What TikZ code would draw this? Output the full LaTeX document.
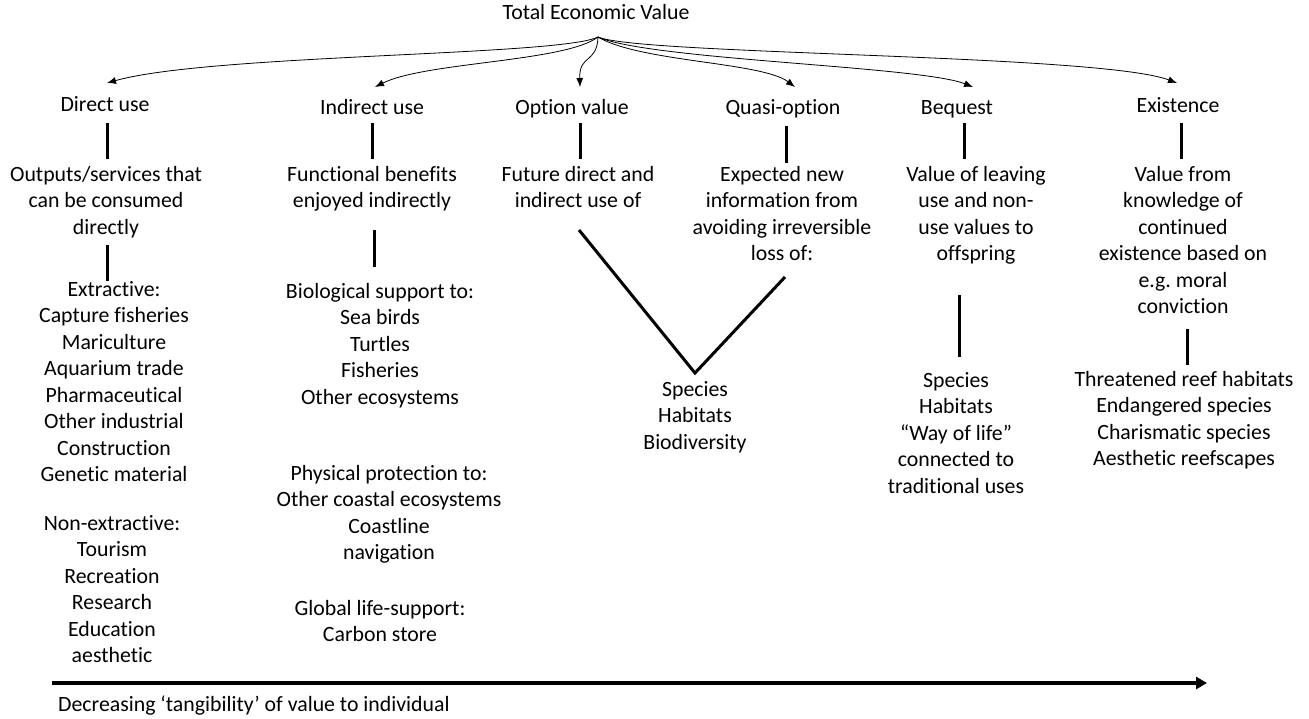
\documentclass[tikz,border=0pt]{standalone}
\usepackage{fontspec}
\setmainfont{Carlito}[Ligatures={NoCommon,NoRare,NoContextual}]
\usetikzlibrary{arrows.meta}
\begin{document}
\frenchspacing
\begin{tikzpicture}[x=1pt,y=-1pt,
  txt/.style={font=\fontsize{21.8}{26.5}\selectfont, align=center, inner sep=0pt, anchor=north, execute at begin node=\strut},
  bar/.style={line width=3pt},
  conn/.style={line width=0.8pt, -{Latex[length=9pt,width=7pt]}},
  axis/.style={line width=3.5pt, -{Triangle[length=11pt,width=12pt]}},
]
\useasboundingbox (0,0) rectangle (1309,718);
% title and category labels
\node[txt] (tev) at (596,1) {Total Economic Value};
\coordinate (o) at (598,37);
\node[txt] (du) at (105,93) {Direct use};
\node[txt] (iu) at (372,96) {Indirect use};
\node[txt] (ov) at (572,96) {Option value};
\node[txt] (qo) at (783,96) {Quasi-option};
\node[txt] (bq) at (957,96) {Bequest};
\node[txt] (ex) at (1178,94) {Existence};
% arrow tips
\coordinate (tdu) at (107,83);
\coordinate (tiu) at (375,87);
\coordinate (tov) at (580,87);
\coordinate (tqo) at (795,87);
\coordinate (tbq) at (973,87);
\coordinate (tex) at (1177,83);
\draw[conn] (o) .. controls (560,56) and (210,54) .. (tdu);
\draw[conn] (o) .. controls (565,62) and (425,62) .. (tiu);
\draw[conn] (o) .. controls (597,64) and (579,54) .. (tov);
\draw[conn] (o) .. controls (640,62) and (762,62) .. (tqo);
\draw[conn] (o) .. controls (650,60) and (920,66) .. (tbq);
\draw[conn] (o) .. controls (640,55) and (1100,54) .. (tex);
% descriptions
\node[txt] (dud) at (106,166) {Outputs/services that\\can be consumed\\directly};
\node[txt] (iud) at (372,166) {Functional benefits\\enjoyed indirectly};
\node[txt] (ovd) at (578,166) {Future direct and\\indirect use of};
\node[txt] (qod) at (782,166) {Expected new\\information from\\avoiding irreversible\\loss of:};
\node[txt] (bqd) at (976,166) {Value of leaving\\use and non-\\use values to\\offspring};
\node[txt] (exd) at (1183,166) {Value from\\knowledge of\\continued\\existence based on\\e.g. moral\\conviction};
% lists
\node[txt] (dul1) at (114,281) {Extractive:\\Capture fisheries\\Mariculture\\Aquarium trade\\Pharmaceutical\\Other industrial\\Construction\\Genetic material};
\node[txt] (dul2) at (112,515) {Non-extractive:\\Tourism\\Recreation\\Research\\Education\\aesthetic};
\node[txt] (iul1) at (380,283) {Biological support to:\\Sea birds\\Turtles\\Fisheries\\Other ecosystems};
\node[txt] (iul2) at (389,465) {Physical protection to:\\Other coastal ecosystems\\Coastline\\navigation};
\node[txt] (iul3) at (380,600) {Global life-support:\\Carbon store};
\node[txt] (sp) at (695,381) {Species\\Habitats\\Biodiversity};
\node[txt] (bql) at (956,372) {Species\\Habitats\\“Way of life”\\connected to\\traditional uses};
\node[txt] (exl) at (1184,371) {Threatened reef habitats\\Endangered species\\Charismatic species\\Aesthetic reefscapes};
% connector bars
\coordinate (a1) at (107,123); \coordinate (a2) at (107,159);
\coordinate (a3) at (107,245); \coordinate (a4) at (107,281);
\coordinate (b1) at (372,123); \coordinate (b2) at (372,159);
\coordinate (b3) at (374,230); \coordinate (b4) at (374,267);
\coordinate (c1) at (580,123); \coordinate (c2) at (580,159);
\coordinate (d1) at (786,126); \coordinate (d2) at (786,163);
\coordinate (e1) at (964,123); \coordinate (e2) at (964,159);
\coordinate (e3) at (959,295); \coordinate (e4) at (959,357);
\coordinate (f1) at (1181,123); \coordinate (f2) at (1181,159);
\coordinate (f3) at (1187,329); \coordinate (f4) at (1187,365);
\coordinate (vl) at (579,230); \coordinate (va) at (695,373); \coordinate (vr) at (785,277);
\draw[bar] (a1) -- (a2); \draw[bar] (a3) -- (a4);
\draw[bar] (b1) -- (b2); \draw[bar] (b3) -- (b4);
\draw[bar] (c1) -- (c2);
\draw[bar] (d1) -- (d2);
\draw[bar] (e1) -- (e2); \draw[bar] (e3) -- (e4);
\draw[bar] (f1) -- (f2); \draw[bar] (f3) -- (f4);
\draw[bar] (vl) -- (va) -- (vr);
% bottom axis
\coordinate (ax1) at (52,683); \coordinate (ax2) at (1207,683);
\draw[axis] (ax1) -- (ax2);
\node[txt, anchor=north west] (axl) at (58,693) {Decreasing ‘tangibility’ of value to individual};
\end{tikzpicture}
\end{document}
